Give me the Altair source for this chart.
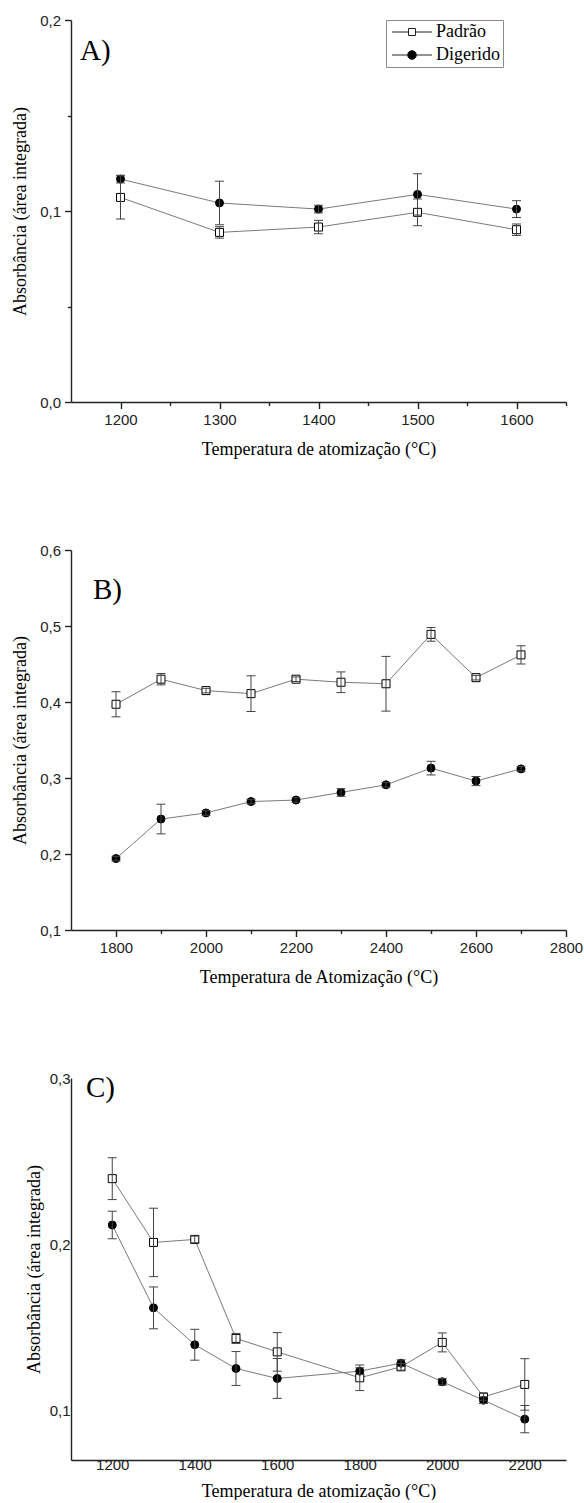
import altair as alt
import pandas as pd

# ---------------- data ----------------
# Panel A
temp_a = [1200, 1300, 1400, 1500, 1600]
a_padrao = [0.1071, 0.0888, 0.0916, 0.0993, 0.0902]
a_padrao_err = [0.0113, 0.0030, 0.0035, 0.0070, 0.0030]
a_digerido = [0.1167, 0.1042, 0.1010, 0.1087, 0.1010]
a_digerido_err = [0.0020, 0.0114, 0.0020, 0.0108, 0.0044]

# Panel B
temp_b = [1800, 1900, 2000, 2100, 2200, 2300, 2400, 2500, 2600, 2700]
b_digerido = [0.397, 0.430, 0.415, 0.411, 0.430, 0.426, 0.424, 0.489, 0.432, 0.462]
b_digerido_err = [0.0165, 0.0075, 0.003, 0.0235, 0.003, 0.0136, 0.036, 0.009, 0.003, 0.012]
b_padrao = [0.194, 0.246, 0.254, 0.269, 0.271, 0.281, 0.291, 0.313, 0.296, 0.312]
b_padrao_err = [0.003, 0.0195, 0.003, 0.003, 0.003, 0.005, 0.003, 0.009, 0.006, 0.003]

# Panel C
temp_c = [1200, 1300, 1400, 1500, 1600, 1800, 1900, 2000, 2100, 2200]
c_padrao = [0.2394, 0.2010, 0.2028, 0.1432, 0.1351, 0.1195, 0.1261, 0.1408, 0.1080, 0.1155]
c_padrao_err = [0.0126, 0.0206, 0.0020, 0.0030, 0.0116, 0.0077, 0.0020, 0.0057, 0.0020, 0.0155]
c_digerido = [0.2115, 0.1616, 0.1394, 0.1251, 0.1191, 0.1235, 0.1283, 0.1171, 0.1060, 0.0946]
c_digerido_err = [0.0083, 0.0126, 0.0093, 0.0102, 0.0120, 0.0020, 0.0020, 0.0020, 0.0020, 0.0082]

xtitle_a = "Temperatura de atomização (°C)"
xtitle_b = "Temperatura de Atomização (°C)"
xtitle_c = "Temperatura de atomização (°C)"
ytitle = "Absorbância (área integrada)"

SERIF = "Liberation Serif"
SANS = "Liberation Sans"
AXC = "#222222"

SQ_LEG = "M-5.7,0H-1M1,0H5.7M-1,-1H1V1H-1Z"
CI_LEG = "M-5.7,0H-1.25M1.25,0H5.7M-1.25,0A1.25,1.25,0,1,0,1.25,0A1.25,1.25,0,1,0,-1.25,0Z"


def make_df(temps, series):
    rows = []
    for name, vals, errs in series:
        for t, v, e in zip(temps, vals, errs):
            rows.append({"temp": t, "serie": name, "val": v, "lo": v - e, "hi": v + e})
    return pd.DataFrame(rows)


def panel(df, sq_name, ci_name, xdom, xvals, xmajor, ydom, yvals, ymajor,
          xtitle, label, lpos, legpos, height, ticks=True,
          ytp=10, xtp=13, xlp=4, ylp=4):
    tick_x = {"condition": {"test": xmajor, "value": 6.5}, "value": 3.5} if ticks else 0
    tick_y = {"condition": {"test": ymajor, "value": 6.5}, "value": 3.5} if ticks else 0
    xaxis = alt.Axis(
        values=xvals, format="d", labelExpr=f"({xmajor}) ? datum.label : ''",
        tickSize=tick_x, ticks=ticks, grid=False, title=xtitle,
        titleFont=SERIF, titleFontSize=18, titleFontWeight="normal", titleColor="black",
        titlePadding=xtp, labelFont=SANS, labelFontSize=15, labelColor=AXC,
        labelPadding=xlp, labelFlush=False, labelOverlap=False,
        domainColor=AXC, domainWidth=1.4, tickColor=AXC, tickWidth=1.4,
    )
    yaxis = alt.Axis(
        values=yvals,
        labelExpr=f"({ymajor}) ? replace(format(datum.value, '.1f'), '.', ',') : ''",
        tickSize=tick_y, ticks=ticks, grid=False, title=ytitle,
        titleFont=SERIF, titleFontSize=18, titleFontWeight="normal", titleColor="black",
        titlePadding=ytp, labelFont=SANS, labelFontSize=15, labelColor=AXC,
        labelPadding=ylp, labelFlush=False, labelOverlap=False,
        domainColor=AXC, domainWidth=1.4, tickColor=AXC, tickWidth=1.4,
    )
    x = alt.X("temp:Q", scale=alt.Scale(domain=xdom, nice=False, zero=False), axis=xaxis)
    y = alt.Y("val:Q", scale=alt.Scale(domain=ydom, nice=False, zero=False), axis=yaxis)
    xs = alt.X("temp:Q")
    base = alt.Chart(df)

    line = base.mark_line(color="#7a7a7a", strokeWidth=1).encode(x=x, y=y, detail="serie:N")
    sq = base.transform_filter(alt.datum.serie == sq_name).mark_point(
        shape="square", size=64, fill="white", stroke="black", strokeWidth=1, opacity=1
    ).encode(x=xs, y="val:Q")
    ci = base.transform_filter(alt.datum.serie == ci_name).mark_point(
        shape="circle", size=64, fill="black", stroke="black", strokeWidth=1, opacity=1
    ).encode(x=xs, y="val:Q")
    rule = base.mark_rule(color="#444444", strokeWidth=1).encode(x=xs, y="lo:Q", y2="hi:Q")
    cap_lo = base.mark_tick(orient="horizontal", size=9, thickness=1, color="#444444", opacity=1).encode(x=xs, y="lo:Q")
    cap_hi = base.mark_tick(orient="horizontal", size=9, thickness=1, color="#444444", opacity=1).encode(x=xs, y="hi:Q")

    order = legpos["order"]
    paths = [SQ_LEG if n == sq_name else CI_LEG for n in order]
    fills = ["white" if n == sq_name else "black" for n in order]
    leg = alt.Legend(
        orient="none", legendX=legpos["x"], legendY=legpos["y"], direction="vertical",
        title=None, padding=3, strokeColor="#8a8a8a", fillColor="white",
        labelFont=SERIF, labelFontSize=18, labelColor="black",
        symbolSize=49, symbolStrokeColor="black", symbolStrokeWidth=1,
        symbolOffset=14, labelOffset=15, rowPadding=5,
    )
    legend_layer = base.transform_filter("false").mark_point(
        strokeWidth=1, opacity=1
    ).encode(
        shape=alt.Shape("serie:N", scale=alt.Scale(domain=order, range=paths), legend=leg),
        fill=alt.Fill("serie:N", scale=alt.Scale(domain=order, range=fills), legend=leg),
        stroke=alt.Stroke("serie:N", scale=alt.Scale(domain=order, range=["#222222", "#222222"]), legend=leg),
    )
    txt = alt.Chart(pd.DataFrame({"t": [label]})).mark_text(
        font=SERIF, fontSize=29, align="left", baseline="alphabetic", color="black"
    ).encode(x=alt.value(lpos[0]), y=alt.value(lpos[1]), text="t:N")

    return alt.layer(line, sq, ci, rule, cap_lo, cap_hi, legend_layer, txt).properties(
        width=495, height=height
    )


df_a = make_df(temp_a, [("Padrão", a_padrao, a_padrao_err), ("Digerido", a_digerido, a_digerido_err)])
df_b = make_df(temp_b, [("Digerido", b_digerido, b_digerido_err), ("Padrão", b_padrao, b_padrao_err)])
df_c = make_df(temp_c, [("Padrão", c_padrao, c_padrao_err), ("Digerido", c_digerido, c_digerido_err)])

pa = panel(
    df_a, "Padrão", "Digerido", [1150, 1650], [1200, 1250, 1300, 1350, 1400, 1450, 1500, 1550, 1600, 1650],
    "datum.value % 100 === 0", [0, 0.2], [0, 0.05, 0.1, 0.15, 0.2], "round(datum.value*100) % 10 === 0",
    xtitle_a, "A)", (9, 40), {"x": 315, "y": 0, "order": ["Padrão", "Digerido"]}, 382,
)
pb = panel(
    df_b, "Digerido", "Padrão", [1700, 2800], [1800, 1900, 2000, 2100, 2200, 2300, 2400, 2500, 2600, 2700, 2800],
    "datum.value % 200 === 0", [0.1, 0.6], [0.1, 0.15, 0.2, 0.25, 0.3, 0.35, 0.4, 0.45, 0.5, 0.55, 0.6],
    "round(datum.value*100) % 10 === 0",
    xtitle_b, "B)", (22, 49), {"x": 301, "y": -6, "order": ["Digerido", "Padrão"]}, 380,
)
pc = panel(
    df_c, "Padrão", "Digerido", [1100, 2300], [1200, 1400, 1600, 1800, 2000, 2200],
    "datum.value % 200 === 0", [0.07, 0.3], [0.1, 0.2, 0.3], "round(datum.value*100) % 10 === 0",
    xtitle_c, "C)", (15, 19), {"x": 317, "y": 30, "order": ["Padrão", "Digerido"]}, 382,
    ticks=False, ytp=6, xtp=10, xlp=-3, ylp=1,
)

chart = alt.vconcat(pa, pb, pc, spacing=84).configure(
    padding={"left": 11, "top": 13, "right": 1, "bottom": 0},
    font=SANS,
).configure_view(stroke=None)

chart.save("out.html", embed_options={"renderer": "svg", "actions": False})
